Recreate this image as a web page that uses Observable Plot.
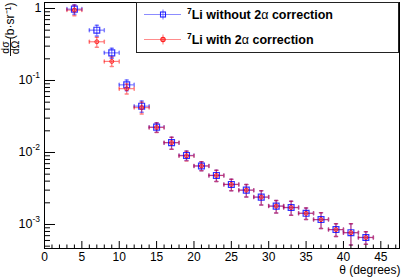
<!DOCTYPE html>
<html><head><meta charset="utf-8">
<script src="https://cdn.jsdelivr.net/npm/d3@7"></script>
<script src="https://cdn.jsdelivr.net/npm/@observablehq/plot@0.6"></script>
<style>
body{margin:0;background:#fff;}
#chart svg{display:block;}
</style></head><body><div id="chart"></div>
<script>
// ---- data ----
const theta = [4, 7, 9, 11, 13, 15, 17, 19, 21, 23, 25, 27, 29, 31, 33, 35, 37, 39, 41, 43];
const thetaErr = [1, 1, 1, 1, 1, 1, 1, 1, 1, 1, 1, 1, 1, 1, 1, 1, 1, 1, 1, 1];
const xsNoCorr = [0.98, 0.50, 0.242, 0.087, 0.044, 0.0225, 0.0137, 0.0091, 0.0065, 0.0048, 0.0036, 0.0030, 0.0024, 0.0018, 0.00172, 0.00143, 0.00117, 0.00085, 0.00077, 0.00066];
const xsNoCorrErr = [0.147, 0.085, 0.039, 0.0148, 0.0079, 0.0034, 0.0026, 0.00137, 0.00091, 0.00086, 0.00065, 0.0006, 0.00053, 0.00036, 0.00038, 0.00026, 0.00029, 0.00017, 0.00025, 0.00013];
const xsCorr = [0.95, 0.345, 0.184, 0.077, 0.042, 0.0223, 0.0137, 0.0090, 0.0065, 0.0048, 0.0036, 0.0030, 0.0024, 0.0018, 0.00172, 0.00143, 0.00117, 0.00085, 0.00077, 0.00066];
const xsCorrErr = [0.16, 0.055, 0.028, 0.0123, 0.0078, 0.0034, 0.0026, 0.00137, 0.00091, 0.00086, 0.00065, 0.0006, 0.00053, 0.00036, 0.00038, 0.00026, 0.00029, 0.00017, 0.00025, 0.00013];
const seriesNames = ["without", "with"];
const seriesColors = ["#0000ff", "#ff0000"];
const legendLabels = ["without 2", "with 2"];

const xMajorTicks = [0, 5, 10, 15, 20, 25, 30, 35, 40, 45];
const xMinorTicks = [1,2,3,4,6,7,8,9,11,12,13,14,16,17,18,19,21,22,23,24,26,27,28,29,31,32,33,34,36,37,38,39,41,42,43,44,46,47];
const yMajorTicks = [1, 0.1, 0.01, 0.001];
const yTickBase = ["1", "10", "10", "10"];
const yTickExp = ["", "-1", "-2", "-3"];
const yMinorTicks = [0.0005,0.0006,0.0007,0.0008,0.0009,0.002,0.003,0.004,0.005,0.006,0.007,0.008,0.009,0.02,0.03,0.04,0.05,0.06,0.07,0.08,0.09,0.2,0.3,0.4,0.5,0.6,0.7,0.8,0.9];

// ---- build table ----
const rows = [];
[[xsNoCorr, xsNoCorrErr], [xsCorr, xsCorrErr]].forEach(([vals, errs], s) => {
  theta.forEach((t, i) => rows.push({
    series: seriesNames[s], x: t, xlo: t - thetaErr[i], xhi: t + thetaErr[i],
    y: vals[i], ylo: vals[i] - errs[i], yhi: vals[i] + errs[i]
  }));
});
const yTicks = yMajorTicks.map((v, i) => ({v, base: yTickBase[i], exp: yTickExp[i]}));

const W = 407, H = 277;
const mL = 44, mR = 8, mT = 2, mB = 29;
const fw = W - mL - mR, fh = H - mT - mB;
const font = "Liberation Sans, Arial, Helvetica, sans-serif";
const colorOf = {without: seriesColors[0], with: seriesColors[1]};
const capShape = {draw(ctx, l) { ctx.moveTo(0, 0); ctx.lineTo(0, -l); }};
const capLen = 3;
const barOpacity = 0.5;

const plot = Plot.plot({
  width: W, height: H,
  marginLeft: mL, marginRight: mR, marginTop: mT, marginBottom: mB,
  x: {domain: [0, 47.5], axis: null},
  y: {type: "log", domain: [4.64e-4, 1.211], axis: null},
  style: {fontFamily: font, background: "white"},
  marks: [
    // error bars
    Plot.ruleY(rows, {y: "y", x1: "xlo", x2: "xhi", stroke: d => colorOf[d.series], strokeOpacity: barOpacity, strokeWidth: 1.2}),
    Plot.ruleX(rows, {x: "x", y1: "ylo", y2: "yhi", stroke: d => colorOf[d.series], strokeOpacity: barOpacity, strokeWidth: 1.2}),
    Plot.vector(rows, {x: "xlo", y: "y", length: capLen, rotate: 0, anchor: "middle", shape: capShape, stroke: d => colorOf[d.series], strokeOpacity: barOpacity}),
    Plot.vector(rows, {x: "xhi", y: "y", length: capLen, rotate: 0, anchor: "middle", shape: capShape, stroke: d => colorOf[d.series], strokeOpacity: barOpacity}),
    Plot.vector(rows, {x: "x", y: "yhi", length: capLen, rotate: 90, anchor: "middle", shape: capShape, stroke: d => colorOf[d.series], strokeOpacity: barOpacity}),
    Plot.vector(rows, {x: "x", y: "ylo", length: capLen, rotate: 90, anchor: "middle", shape: capShape, stroke: d => colorOf[d.series], strokeOpacity: barOpacity}),
    // markers
    Plot.dot(rows.filter(d => d.series === "without"), {x: "x", y: "y", symbol: "square", r: 3.3, stroke: seriesColors[0], strokeOpacity: 0.8, strokeWidth: 1.2, fill: "none"}),
    Plot.dot(rows.filter(d => d.series === "with"), {x: "x", y: "y", symbol: "circle", r: 2, stroke: seriesColors[1], strokeOpacity: 0.75, strokeWidth: 1, fill: "rgba(255,80,80,0.3)"}),
    // frame
    Plot.frame({stroke: "black", strokeWidth: 1}),
    // y ticks (inward)
    Plot.tickY(yMajorTicks, {y: d => d, insetRight: fw - 11, stroke: "black"}),
    Plot.tickY(yMinorTicks, {y: d => d, insetRight: fw - 6, stroke: "black"}),
    // x ticks (inward)
    Plot.tickX(xMajorTicks, {x: d => d, insetTop: fh - 7, stroke: "black"}),
    Plot.tickX(xMinorTicks, {x: d => d, insetTop: fh - 3.5, stroke: "black"}),
    // y tick labels
    Plot.text(yTicks.filter(d => !d.exp), {y: "v", text: "base", frameAnchor: "left", dx: -3, textAnchor: "end", lineAnchor: "middle", fontSize: 12.5, fill: "black"}),
    Plot.text(yTicks.filter(d => d.exp), {y: "v", text: "base", frameAnchor: "left", dx: -12, textAnchor: "end", lineAnchor: "middle", fontSize: 12.5, fill: "black"}),
    Plot.text(yTicks.filter(d => d.exp), {y: "v", text: "exp", frameAnchor: "left", dx: -12, dy: -5, textAnchor: "start", lineAnchor: "middle", fontSize: 8.5, fill: "black"}),
    // x tick labels
    Plot.text(xMajorTicks, {x: d => d, text: d => String(d), frameAnchor: "bottom", dy: 8.5, lineAnchor: "middle", fontSize: 12, fill: "black"}),
    // x title
    Plot.text(["\u03b8 (degrees)"], {text: d => d, frameAnchor: "bottom-right", dx: 1, dy: 22, textAnchor: "end", lineAnchor: "middle", fontSize: 12, fill: "black"}),
    // y title
    Plot.text(["(b\u00b7sr\u207b\u00b9)"], {text: d => d, frameAnchor: "top-left", dx: -34, dy: 0, rotate: -90, textAnchor: "end", lineAnchor: "middle", fontSize: 12, fill: "black"}),
    Plot.text(["d\u03c3"], {text: d => d, frameAnchor: "top-left", dx: -38.5, dy: 45, rotate: -90, textAnchor: "middle", lineAnchor: "middle", fontSize: 10.5, fill: "black"}),
    Plot.text(["d\u03a9"], {text: d => d, frameAnchor: "top-left", dx: -29, dy: 45, rotate: -90, textAnchor: "middle", lineAnchor: "middle", fontSize: 10.5, fill: "black"})
  ]
});
document.getElementById("chart").appendChild(plot);

// fraction bar + legend
const svg = d3.select(plot);
svg.append("line").attr("x1", mL - 33.5).attr("x2", mL - 33.5).attr("y1", mT + 36).attr("y2", mT + 54).attr("stroke", "black").attr("stroke-width", 0.9);

const lg = svg.append("g").attr("text-anchor", "start");
const lx0 = mL + 92, ly0 = mT, lw = W - mR - lx0, lh = 50;
lg.append("rect").attr("x", lx0 + 0.5).attr("y", ly0 + 0.5).attr("width", lw - 1).attr("height", lh).attr("fill", "white").attr("stroke", "#222").attr("stroke-width", 1);
seriesNames.forEach((s, i) => {
  const cy = ly0 + 12.5 + i * 25;
  const c = seriesColors[i];
  lg.append("line").attr("x1", lx0 + 8).attr("x2", lx0 + 45).attr("y1", cy).attr("y2", cy).attr("stroke", c).attr("stroke-opacity", 0.45).attr("stroke-width", 1.2);
  lg.append("line").attr("x1", lx0 + 27).attr("x2", lx0 + 27).attr("y1", cy - 5).attr("y2", cy + 5).attr("stroke", c).attr("stroke-opacity", 0.45).attr("stroke-width", 1.2);
  if (i === 0) {
    lg.append("rect").attr("x", lx0 + 24.5).attr("y", cy - 2.5).attr("width", 5).attr("height", 5).attr("fill", "none").attr("stroke", c).attr("stroke-opacity", 0.85).attr("stroke-width", 1.1);
  } else {
    lg.append("circle").attr("cx", lx0 + 27).attr("cy", cy).attr("r", 2.2).attr("fill", "rgba(255,0,0,0.35)").attr("stroke", c).attr("stroke-opacity", 0.85).attr("stroke-width", 1.1);
  }
  const t = lg.append("text").attr("x", lx0 + 51).attr("y", cy + 4.5).attr("text-anchor", "start").attr("font-family", font).attr("font-size", 12.5).attr("font-weight", "bold").attr("fill", "black");
  t.append("tspan").attr("font-size", 8.5).attr("dy", -5).text("7");
  t.append("tspan").attr("dy", 5).text("Li " + legendLabels[i]);
  t.append("tspan").attr("font-weight", "normal").text("\u03b1");
  t.append("tspan").text(" correction");
});
</script>
</body></html>
